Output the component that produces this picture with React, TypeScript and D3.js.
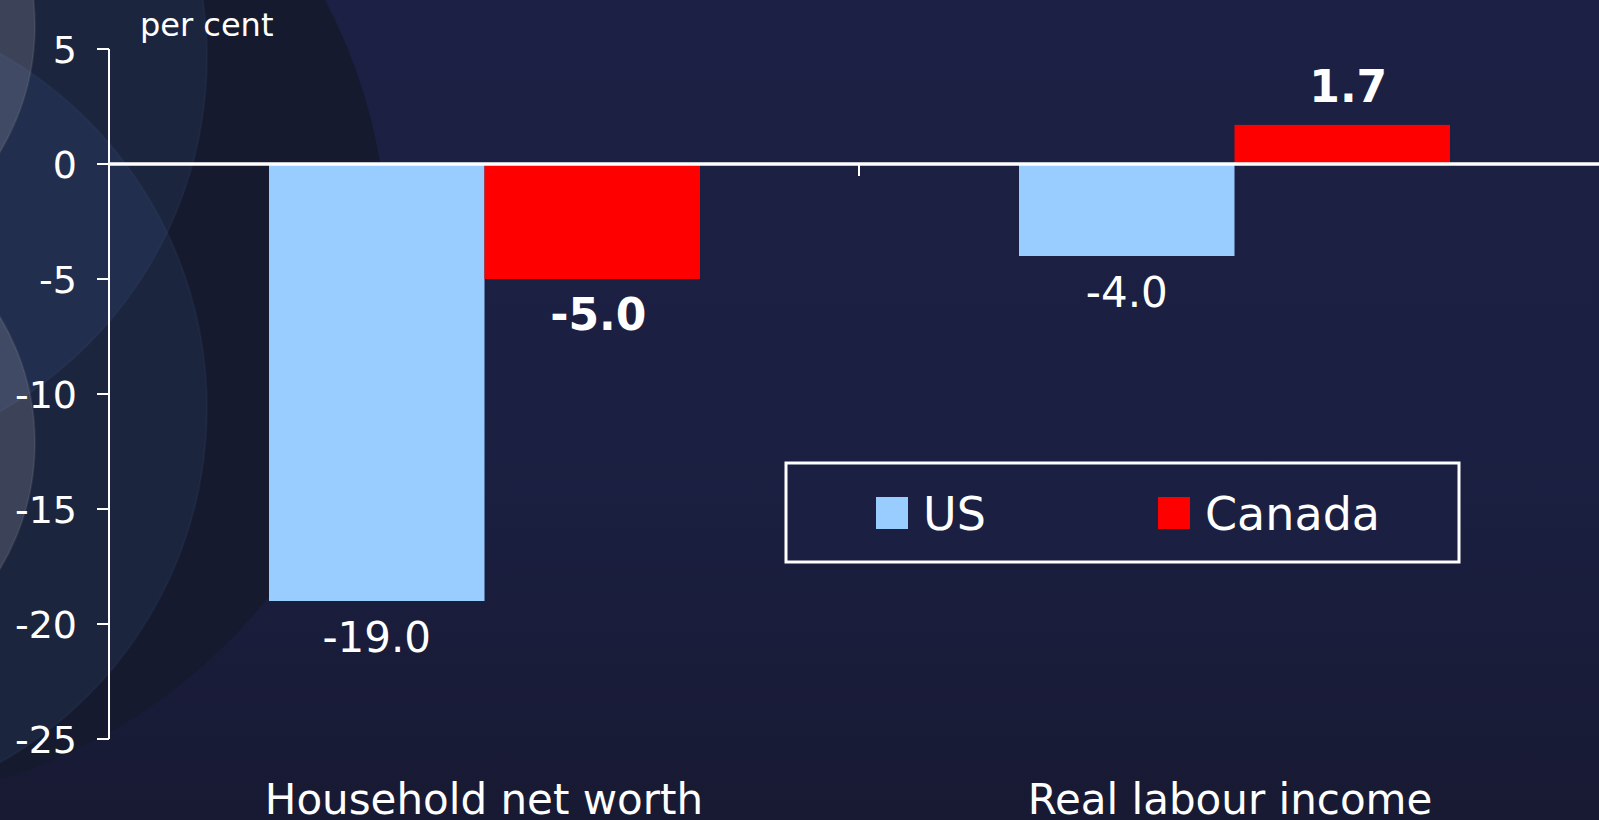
import React from "react";
import * as d3 from "d3";

const categories = ["Household net worth", "Real labour income"];
const seriesNames = ["US", "Canada"];
const usValues = [-19.0, -4.0];
const canadaValues = [-5.0, 1.7];
const yTicks = [5, 0, -5, -10, -15, -20, -25];
const seriesColors = ["#99ccff", "#ff0000"];
const unitLabel = "per cent";

const W = 1599;
const H = 820;
const FONT = "'DejaVu Sans', Verdana, sans-serif";

export default function App() {
  const y = d3.scaleLinear().domain([-25, 5]).range([739, 49]);
  const x0 = d3.scaleBand<string>().domain(categories).range([109, 1609]).paddingInner(0).paddingOuter(0);
  const x1 = d3.scaleBand<string>().domain(seriesNames).range([160, 591]).padding(0);
  const seriesValues = [usValues, canadaValues];
  const zeroY = y(0);

  return (
    <div style={{ position: "absolute", left: 0, top: 0 }}>
      <svg width={W} height={H} style={{ display: "block" }} fontFamily={FONT}>
        <defs>
          <linearGradient id="bg" x1="0" y1="0" x2="0" y2="1">
            <stop offset="0" stopColor="#1b2044" />
            <stop offset="0.5" stopColor="#1b2043" />
            <stop offset="1" stopColor="#181a33" />
          </linearGradient>
        </defs>
        <rect x={0} y={0} width={W} height={H} fill="url(#bg)" />
        {/* decorative circles */}
        <circle cx={-160} cy={255} r={548} fill="#151a2e" />
        <circle cx={-200} cy={57} r={407} fill="rgb(95,130,200)" fillOpacity={0.11} stroke="rgba(120,150,220,0.06)" strokeWidth={2} />
        <circle cx={-200} cy={408} r={407} fill="rgb(95,130,200)" fillOpacity={0.11} stroke="rgba(120,150,220,0.06)" strokeWidth={2} />
        <circle cx={-209} cy={26} r={244} fill="rgb(190,190,195)" fillOpacity={0.2} stroke="rgba(255,255,255,0.07)" strokeWidth={2} />
        <circle cx={-209} cy={443} r={244} fill="rgb(190,190,195)" fillOpacity={0.2} stroke="rgba(255,255,255,0.07)" strokeWidth={2} />

        {/* bars */}
        {categories.map((c, ci) =>
          seriesNames.map((s, si) => {
            const v = seriesValues[si][ci];
            const bx = (x0(c) as number) + (x1(s) as number);
            const bw = x1.bandwidth();
            const top = Math.min(y(v), zeroY);
            const h = Math.abs(y(v) - zeroY);
            return <rect key={c + s} x={bx} y={top} width={bw} height={h} fill={seriesColors[si]} />;
          })
        )}

        {/* value labels */}
        {categories.map((c, ci) =>
          seriesNames.map((s, si) => {
            const v = seriesValues[si][ci];
            const bold = si === 1;
            const cx = (x0(c) as number) + (x1(s) as number) + x1.bandwidth() / 2 + (bold ? 6 : 0);
            const ly = v < 0 ? y(v) + 51 : y(v) - 23;
            return (
              <text key={"l" + c + s} x={cx} y={ly} textAnchor="middle" fill="#ffffff" fontSize={bold ? 44 : 42} fontWeight={bold ? "bold" : "normal"}>
                {v.toFixed(1)}
              </text>
            );
          })
        )}

        {/* y axis */}
        <line x1={109} x2={109} y1={y(5)} y2={y(-25)} stroke="#ffffff" strokeWidth={2} />
        {yTicks.map((t) => (
          <g key={t}>
            <line x1={97} x2={109} y1={y(t)} y2={y(t)} stroke="#ffffff" strokeWidth={2} />
            <text x={77} y={y(t) + 14} textAnchor="end" fill="#ffffff" fontSize={38}>
              {String(t)}
            </text>
          </g>
        ))}
        <text x={140} y={36} fill="#ffffff" fontSize={32}>
          {unitLabel}
        </text>

        {/* category axis */}
        {[...categories.map((c) => x0(c) as number), 1609].map((bx, i) => (
          <line key={"ct" + i} x1={bx} x2={bx} y1={zeroY} y2={zeroY + 12} stroke="#ffffff" strokeWidth={2} />
        ))}
        <line x1={109} x2={1609} y1={zeroY} y2={zeroY} stroke="#ffffff" strokeWidth={3.5} />
        {categories.map((c, i) => (
          <text key={"cl" + c} x={(x0(c) as number) + x0.bandwidth() / 2 - (i === 1 ? 4 : 0)} y={814} textAnchor="middle" fill="#ffffff" fontSize={42}>
            {c}
          </text>
        ))}

        {/* legend */}
        <rect x={786} y={463} width={673} height={99} fill="#1b2042" stroke="#ffffff" strokeWidth={3} />
        {seriesNames.map((s, si) => {
          const lx = [876, 1158][si];
          return (
            <g key={"lg" + s}>
              <rect x={lx} y={497} width={32} height={32} fill={seriesColors[si]} />
              <text x={lx + 47} y={530} fill="#ffffff" fontSize={46}>
                {s}
              </text>
            </g>
          );
        })}
      </svg>
    </div>
  );
}
